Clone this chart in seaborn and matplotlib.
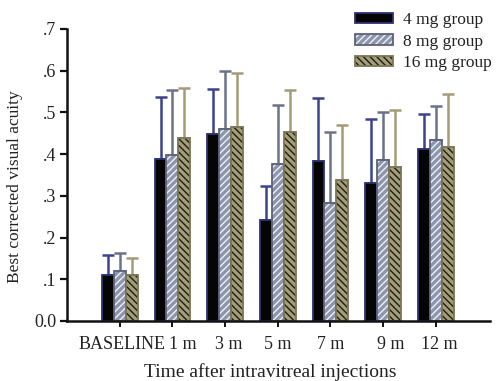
import matplotlib
matplotlib.use("Agg")
import matplotlib.pyplot as plt
import matplotlib.colors as mcolors
import matplotlib.patches as mpatches
import matplotlib.transforms as mtransforms
import seaborn as sns
import pandas as pd

categories = ["BASELINE", "1 m", "3 m", "5 m", "7 m", "9 m", "12 m"]
groups = ["4 mg group", "8 mg group", "16 mg group"]
mean_4mg = [0.111, 0.389, 0.449, 0.243, 0.383, 0.331, 0.413]
mean_8mg = [0.120, 0.397, 0.461, 0.376, 0.282, 0.385, 0.435]
mean_16mg = [0.111, 0.438, 0.466, 0.453, 0.337, 0.368, 0.417]
upper_4mg = [0.158, 0.538, 0.556, 0.323, 0.535, 0.485, 0.497]
upper_8mg = [0.163, 0.553, 0.599, 0.517, 0.453, 0.502, 0.516]
upper_16mg = [0.150, 0.558, 0.594, 0.554, 0.470, 0.506, 0.545]
ytick_vals = [0.0, 0.1, 0.2, 0.3, 0.4, 0.5, 0.6, 0.7]
ytick_labels = ["0.0", ".1", ".2", ".3", ".4", ".5", ".6", ".7"]

means = [mean_4mg, mean_8mg, mean_16mg]
uppers = [upper_4mg, upper_8mg, upper_16mg]

rows = []
for g, vals in zip(groups, means):
    for c, v in zip(categories, vals):
        rows.append({"time": c, "group": g, "value": v})
df = pd.DataFrame(rows)

sns.set_theme(style="ticks")
plt.rcParams["font.family"] = ["Liberation Serif", "DejaVu Serif"]
plt.rcParams["hatch.linewidth"] = 1.0

face_colors = ["#050505", "#8d95ac", "#a49d79"]
edge_colors = ["#2e3373", "#5c6379", "#7c7555"]
hatch_colors = [None, "#eef1f7", "#1e1e16"]
hatches = [None, "/////", "\\\\\\\\\\"]
err_colors = ["#3d428e", "#6b7288", "#a39c77"]
text_color = "#222222"
# small horizontal nudges (pixels) of the x tick labels, as in the reference
xlabel_nudge_px = [2, 10, 4, 0, 0, 8, 4]

fig = plt.figure(figsize=(5.01, 3.81), dpi=100)
ax = fig.add_axes([0.134, 0.1575, 0.844, 0.7665])

sns.barplot(data=df, x="time", y="value", hue="group", order=categories,
            hue_order=groups, palette=face_colors, width=0.68,
            errorbar=None, ax=ax, saturation=1, legend=False)


def set_hatch_color(p, color):
    hc = mcolors.to_rgba(color)
    if hasattr(p, "set_hatchcolor"):
        p.set_hatchcolor(hc)
    else:
        p._hatch_color = hc


def style_patch(p, i):
    p.set_facecolor(face_colors[i])
    p.set_edgecolor(edge_colors[i])
    p.set_linewidth(1.3)
    if hatches[i]:
        p.set_hatch(hatches[i])
        set_hatch_color(p, hatch_colors[i])


bar_containers = list(ax.containers)
for i, cont in enumerate(bar_containers):
    for j, p in enumerate(cont.patches):
        style_patch(p, i)
        p.set_zorder(2)
        xc = p.get_x() + p.get_width() / 2
        h = p.get_height()
        ax.errorbar([xc], [h], yerr=[[0], [uppers[i][j] - h]], fmt="none",
                    ecolor=err_colors[i], elinewidth=1.8, capsize=4.2,
                    capthick=1.8, zorder=1)

ax.set_xlim(-1.0, 7.03)
ax.set_ylim(0, 0.7)
ax.set_yticks(ytick_vals)
ax.set_yticklabels(ytick_labels)
sns.despine(ax=ax)
ax.spines["left"].set_linewidth(1.8)
ax.spines["bottom"].set_linewidth(1.8)
ax.spines["left"].set_color("#111111")
ax.spines["bottom"].set_color("#111111")
ax.tick_params(axis="y", length=5, width=1.6, colors="#111111", labelsize=13,
               labelcolor=text_color, pad=3)
ax.tick_params(axis="x", length=4, width=1.4, colors="#111111", labelsize=13,
               labelcolor=text_color, pad=7)

for lab, dx in zip(ax.get_xticklabels(), xlabel_nudge_px):
    lab.set_transform(lab.get_transform() +
                      mtransforms.ScaledTranslation(dx / 100, 0, fig.dpi_scale_trans))

ax.set_xlabel("Time after intravitreal injections", fontsize=14, color=text_color)
ax.set_ylabel("Best corrected visual acuity", fontsize=12.5, color=text_color)
ax.xaxis.set_label_coords(0.48, -0.145)
ax.yaxis.set_label_coords(-0.105, 0.46)

handles = []
for i, g in enumerate(groups):
    hp = mpatches.Patch(facecolor=face_colors[i], edgecolor=edge_colors[i],
                        linewidth=1.3, hatch=hatches[i], label=g)
    if hatches[i]:
        set_hatch_color(hp, hatch_colors[i])
    handles.append(hp)

fig.legend(handles=handles, loc="upper left", bbox_to_anchor=(355 / 501, 1 - 12 / 381),
           frameon=False, fontsize=12.5, handlelength=2.2, handleheight=0.55,
           handletextpad=0.55, labelspacing=0.32, borderpad=0, borderaxespad=0,
           labelcolor=text_color)

fig.savefig("out.png", dpi=100)
